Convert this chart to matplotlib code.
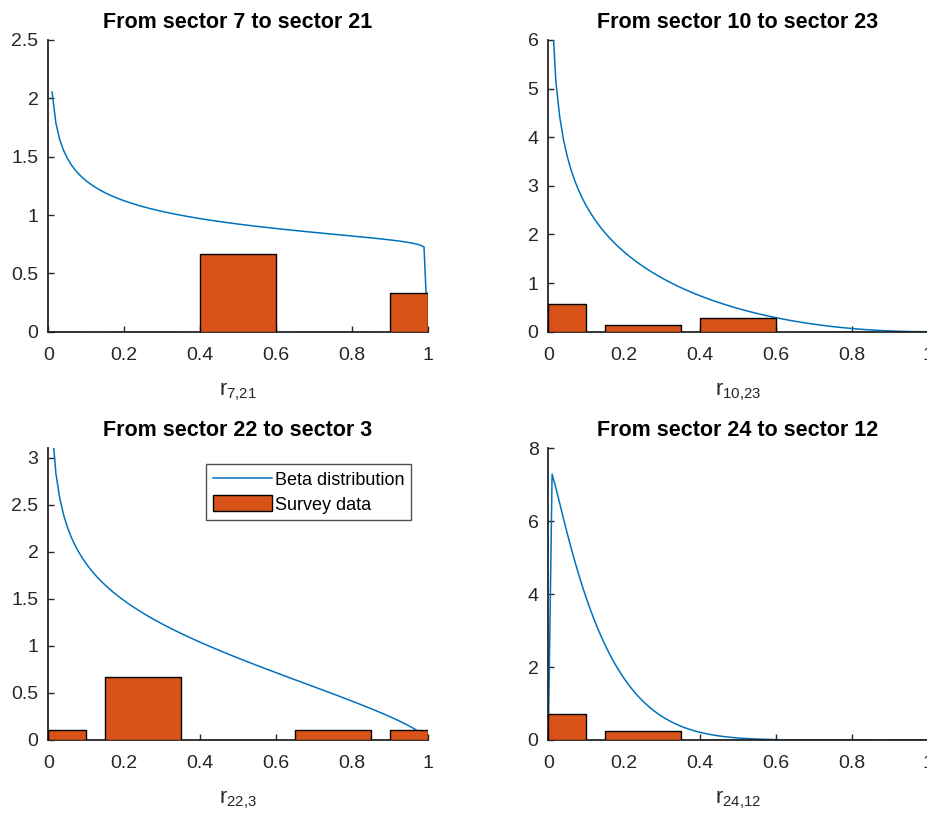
import math
import numpy as np
import matplotlib
matplotlib.use("Agg")
import matplotlib.pyplot as plt

plt.rcParams["font.family"] = ["Liberation Sans", "DejaVu Sans"]

# histogram bins used for the survey answers
bin_centers = [0.05, 0.25, 0.5, 0.75, 0.95]
bin_widths = [0.1, 0.2, 0.2, 0.2, 0.1]

# fitted beta parameters (alpha, beta) per sector pair
beta_7_21 = (0.80, 1.026)
beta_10_23 = (0.68, 3.0)
beta_22_3 = (0.78, 1.7)
beta_24_12 = (1.03, 8.3)

# survey answer frequencies per bin
survey_7_21 = [0, 0, 2 / 3, 0, 1 / 3]
survey_10_23 = [4 / 7, 1 / 7, 2 / 7, 0, 0]
survey_22_3 = [1 / 9, 6 / 9, 0, 1 / 9, 1 / 9]
survey_24_12 = [0.72, 0.24, 0, 0, 0]

titles = ["From sector 7 to sector 21", "From sector 10 to sector 23",
          "From sector 22 to sector 3", "From sector 24 to sector 12"]
xlabels = [r"$\mathregular{r_{7{,}21}}$", r"$\mathregular{r_{10{,}23}}$",
           r"$\mathregular{r_{22{,}3}}$", r"$\mathregular{r_{24{,}12}}$"]

x_ticks = [0, 0.2, 0.4, 0.6, 0.8, 1]
x_ticklabels = ["0", "0.2", "0.4", "0.6", "0.8", "1"]
y_ticks = [[0, 0.5, 1, 1.5, 2, 2.5], [0, 1, 2, 3, 4, 5, 6],
           [0, 0.5, 1, 1.5, 2, 2.5, 3], [0, 2, 4, 6, 8]]
y_ticklabels = [["0", "0.5", "1", "1.5", "2", "2.5"],
                ["0", "1", "2", "3", "4", "5", "6"],
                ["0", "0.5", "1", "1.5", "2", "2.5", "3"],
                ["0", "2", "4", "6", "8"]]
y_max = [2.5, 6, 3.1, 8]

params = [beta_7_21, beta_10_23, beta_22_3, beta_24_12]
surveys = [survey_7_21, survey_10_23, survey_22_3, survey_24_12]

r = np.linspace(0, 1, 101)


def beta_pdf(x, a, b):
    log_b = math.lgamma(a) + math.lgamma(b) - math.lgamma(a + b)
    with np.errstate(divide="ignore", invalid="ignore"):
        y = x ** (a - 1) * (1 - x) ** (b - 1) / math.exp(log_b)
    y[~np.isfinite(y)] = np.nan
    return y


W, H = 928, 816
fig = plt.figure(figsize=(W / 100, H / 100), dpi=100)
boxes = [(48.3, 40), (548.3, 40), (48.3, 448.3), (548.3, 448.3)]
aw, ah = 379.5, 291.7

blue = "#0072BD"
orange = "#D95319"
dark = "#262626"

for i in range(4):
    left, top = boxes[i]
    ax = fig.add_axes([left / W, (H - top - ah) / H, aw / W, ah / H])
    a, b = params[i]
    ax.plot(r, beta_pdf(r, a, b), color=blue, lw=1.1, label="Beta distribution", zorder=2)
    ax.bar(bin_centers, surveys[i], width=bin_widths, color=orange,
           edgecolor="black", linewidth=1.0, label="Survey data", zorder=3)
    ax.set_xlim(0, 1)
    ax.set_ylim(0, y_max[i])
    ax.set_xticks(x_ticks)
    ax.set_xticklabels(x_ticklabels)
    ax.set_yticks(y_ticks[i])
    ax.set_yticklabels(y_ticklabels[i])
    ax.set_title(titles[i], fontsize=15.5, fontweight="bold", pad=9)
    ax.set_xlabel(xlabels[i], fontsize=15.5, color=dark, labelpad=12)
    for side in ["top", "right"]:
        ax.spines[side].set_visible(False)
    for side in ["left", "bottom"]:
        ax.spines[side].set_color(dark)
        ax.spines[side].set_linewidth(1.3)
    ax.tick_params(direction="in", length=4, width=1, colors=dark,
                   labelsize=14)
    ax.tick_params(axis="x", pad=11)
    ax.tick_params(axis="y", pad=7)
    if i == 2:
        leg = ax.legend(loc="upper right", bbox_to_anchor=(0.955, 0.945),
                        fontsize=13, frameon=True, fancybox=False,
                        borderpad=0.35, handlelength=3.3, handleheight=1.0,
                        handletextpad=0.15, labelspacing=0.35, borderaxespad=0)
        leg.get_frame().set_edgecolor(dark)
        leg.get_frame().set_linewidth(1.0)

fig.savefig("out.png", dpi=100)
